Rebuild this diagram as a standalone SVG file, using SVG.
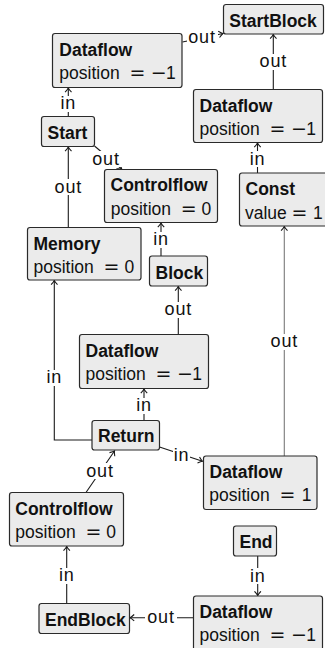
<svg xmlns="http://www.w3.org/2000/svg" width="325" height="648" viewBox="0 0 325 648">
  <style>
    .box { fill: #ebebeb; stroke: #2a2a2a; stroke-width: 1.2; }
    .h { font-family: "Liberation Sans", Arial, sans-serif; font-size: 17.5px; font-weight: bold; fill: #111111; }
    .v { font-family: "Liberation Sans", Arial, sans-serif; font-size: 17.5px; fill: #111111; }
    .m { font-family: "DejaVu Sans", sans-serif; font-size: 19px; }
    .edge { fill: none; stroke: #1a1a1a; stroke-width: 1.1; marker-end: url(#tip); }
    .edge.grey { stroke: #7a7a7a; }
    .lbg { fill: #ffffff; }
    .lbl { font-family: "Liberation Sans", Arial, sans-serif; font-size: 18px; fill: #111111; text-anchor: middle; letter-spacing: 0.8px; }
  </style>
  <defs>
    <marker id="tip" markerUnits="userSpaceOnUse" markerWidth="10" markerHeight="10" viewBox="-5 -5 10 10" refX="0" refY="0" orient="auto">
      <path d="M-4.2,-3.2 Q-1.4,-0.6 0,0 Q-1.4,0.6 -4.2,3.2" fill="none" stroke="#1a1a1a" stroke-width="1.1"/>
    </marker>
  </defs>

  <rect width="325" height="648" fill="#ffffff"/>

  <!-- connectors -->
  <g id="edges">
    <line class="edge" x1="68.3" y1="116.5" x2="68.3" y2="88"/>
    <line class="edge" x1="182.5" y1="42" x2="223" y2="33.5"/>
    <line class="edge" x1="273.3" y1="89.5" x2="273.3" y2="34.5"/>
    <line class="edge" x1="257.5" y1="173" x2="257.5" y2="143"/>
    <line class="edge" x1="68.3" y1="227.5" x2="68.3" y2="147"/>
    <line class="edge" x1="94.5" y1="146" x2="121.7" y2="169"/>
    <line class="edge" x1="161" y1="256" x2="161" y2="223"/>
    <line class="edge" x1="178.3" y1="334.5" x2="178.3" y2="286.5"/>
    <line class="edge" x1="144" y1="420.5" x2="144" y2="389"/>
    <polyline class="edge" points="92,440 54.3,440 54.3,280.5"/>
    <line class="edge" x1="159.5" y1="447" x2="202.5" y2="461.3"/>
    <line class="edge grey" x1="284.3" y1="456" x2="284.3" y2="226.5"/>
    <line class="edge" x1="86" y1="492.5" x2="114.5" y2="451"/>
    <line class="edge" x1="66.7" y1="603.5" x2="66.7" y2="546.5"/>
    <line class="edge" x1="257.7" y1="556" x2="257.7" y2="595.5"/>
    <line class="edge" x1="193.5" y1="617.7" x2="130" y2="617.7"/>

    <!-- label backings keep the lines clear of the words -->
    <rect class="lbg" x="60" y="96" width="17" height="16"/>
    <rect class="lbg" x="187" y="31" width="31" height="16"/>
    <rect class="lbg" x="257.5" y="54" width="32" height="16"/>
    <rect class="lbg" x="249" y="151" width="17" height="16"/>
    <rect class="lbg" x="52.5" y="179" width="32" height="16"/>
    <rect class="lbg" x="90" y="151" width="32" height="16"/>
    <rect class="lbg" x="152.5" y="232" width="17" height="16"/>
    <rect class="lbg" x="162.5" y="302" width="32" height="16"/>
    <rect class="lbg" x="135.5" y="398" width="17" height="16"/>
    <rect class="lbg" x="46" y="370" width="17" height="16"/>
    <rect class="lbg" x="173" y="448" width="17" height="16"/>
    <rect class="lbg" x="268.5" y="334" width="32" height="16"/>
    <rect class="lbg" x="84" y="463" width="32" height="16"/>
    <rect class="lbg" x="58" y="568" width="17" height="16"/>
    <rect class="lbg" x="249" y="568" width="17" height="16"/>
    <rect class="lbg" x="145" y="609" width="32" height="16"/>

    <text class="lbl" x="68.3" y="108.5">in</text>
    <text class="lbl" x="202" y="43.3">out</text>
    <text class="lbl" x="273.3" y="66.5">out</text>
    <text class="lbl" x="257.5" y="164.5">in</text>
    <text class="lbl" x="68.3" y="193">out</text>
    <text class="lbl" x="106" y="164.5">out</text>
    <text class="lbl" x="161" y="245">in</text>
    <text class="lbl" x="178.3" y="315">out</text>
    <text class="lbl" x="144" y="411">in</text>
    <text class="lbl" x="54.3" y="383">in</text>
    <text class="lbl" x="181.5" y="461.3">in</text>
    <text class="lbl" x="284.3" y="346.5">out</text>
    <text class="lbl" x="100" y="476.5">out</text>
    <text class="lbl" x="66.7" y="581">in</text>
    <text class="lbl" x="257.7" y="581.5">in</text>
    <text class="lbl" x="161" y="623">out</text>
  </g>

  <!-- nodes -->
  <g id="startblock">
    <rect class="box" x="223.5" y="4.5" width="100" height="29.5" rx="2.5"/>
    <text class="h" x="229.3" y="26.5">StartBlock</text>
  </g>
  <g id="dataflow-a">
    <rect class="box" x="52.5" y="33.5" width="129.5" height="54" rx="2.5"/>
    <text class="h" x="59.3" y="55.5">Dataflow</text>
    <text class="v" x="59.3" y="79.3">position<tspan class="m" x="129.4">=</tspan><tspan class="m" x="150.8">−</tspan><tspan x="166.1">1</tspan></text>
  </g>
  <g id="dataflow-b">
    <rect class="box" x="193.5" y="89.5" width="129" height="53" rx="2.5"/>
    <text class="h" x="199.5" y="111.5">Dataflow</text>
    <text class="v" x="199.5" y="134.5">position<tspan class="m" x="269.6">=</tspan><tspan class="m" x="291">−</tspan><tspan x="306.3">1</tspan></text>
  </g>
  <g id="start">
    <rect class="box" x="41.5" y="116.5" width="53" height="30" rx="2.5"/>
    <text class="h" x="47.5" y="139">Start</text>
  </g>
  <g id="controlflow-a">
    <rect class="box" x="104.5" y="169.5" width="113" height="53" rx="2.5"/>
    <text class="h" x="110.5" y="191">Controlflow</text>
    <text class="v" x="110.7" y="215.3">position<tspan class="m" x="180.8">=</tspan><tspan x="201.6">0</tspan></text>
  </g>
  <g id="const">
    <rect class="box" x="239.5" y="173" width="100" height="53" rx="2.5"/>
    <text class="h" x="245.5" y="195">Const</text>
    <text class="v" x="245" y="218.5">value<tspan class="m" x="291.4">=</tspan><tspan x="313">1</tspan></text>
  </g>
  <g id="memory">
    <rect class="box" x="27.5" y="227.5" width="113.5" height="52.5" rx="2.5"/>
    <text class="h" x="33.5" y="249.5">Memory</text>
    <text class="v" x="33.5" y="272.8">position<tspan class="m" x="103.6">=</tspan><tspan x="124.4">0</tspan></text>
  </g>
  <g id="block">
    <rect class="box" x="149.5" y="256" width="58" height="30" rx="2.5"/>
    <text class="h" x="155.5" y="278.5">Block</text>
  </g>
  <g id="dataflow-c">
    <rect class="box" x="79.5" y="334.5" width="129" height="54" rx="2.5"/>
    <text class="h" x="85.5" y="357">Dataflow</text>
    <text class="v" x="85.5" y="380">position<tspan class="m" x="155.6">=</tspan><tspan class="m" x="177">−</tspan><tspan x="192.3">1</tspan></text>
  </g>
  <g id="return">
    <rect class="box" x="92" y="420.5" width="67.5" height="29.5" rx="2.5"/>
    <text class="h" x="98" y="441.7">Return</text>
  </g>
  <g id="dataflow-d">
    <rect class="box" x="203.5" y="456" width="113.5" height="53.5" rx="2.5"/>
    <text class="h" x="209.5" y="477.5">Dataflow</text>
    <text class="v" x="209.3" y="501.3">position<tspan class="m" x="279.4">=</tspan><tspan x="301.8">1</tspan></text>
  </g>
  <g id="controlflow-b">
    <rect class="box" x="9.5" y="492.5" width="114" height="53.5" rx="2.5"/>
    <text class="h" x="15.3" y="514.5">Controlflow</text>
    <text class="v" x="15.3" y="538.3">position<tspan class="m" x="85.4">=</tspan><tspan x="106.2">0</tspan></text>
  </g>
  <g id="end">
    <rect class="box" x="233.5" y="526" width="43" height="30" rx="2.5"/>
    <text class="h" x="239.5" y="548">End</text>
  </g>
  <g id="endblock">
    <rect class="box" x="39" y="603.5" width="90.5" height="30" rx="2.5"/>
    <text class="h" x="45" y="625.5">EndBlock</text>
  </g>
  <g id="dataflow-e">
    <rect class="box" x="193.5" y="596" width="129" height="54" rx="2.5"/>
    <text class="h" x="199.5" y="617.5">Dataflow</text>
    <text class="v" x="199.5" y="640.5">position<tspan class="m" x="269.6">=</tspan><tspan class="m" x="291">−</tspan><tspan x="306.3">1</tspan></text>
  </g>
</svg>
